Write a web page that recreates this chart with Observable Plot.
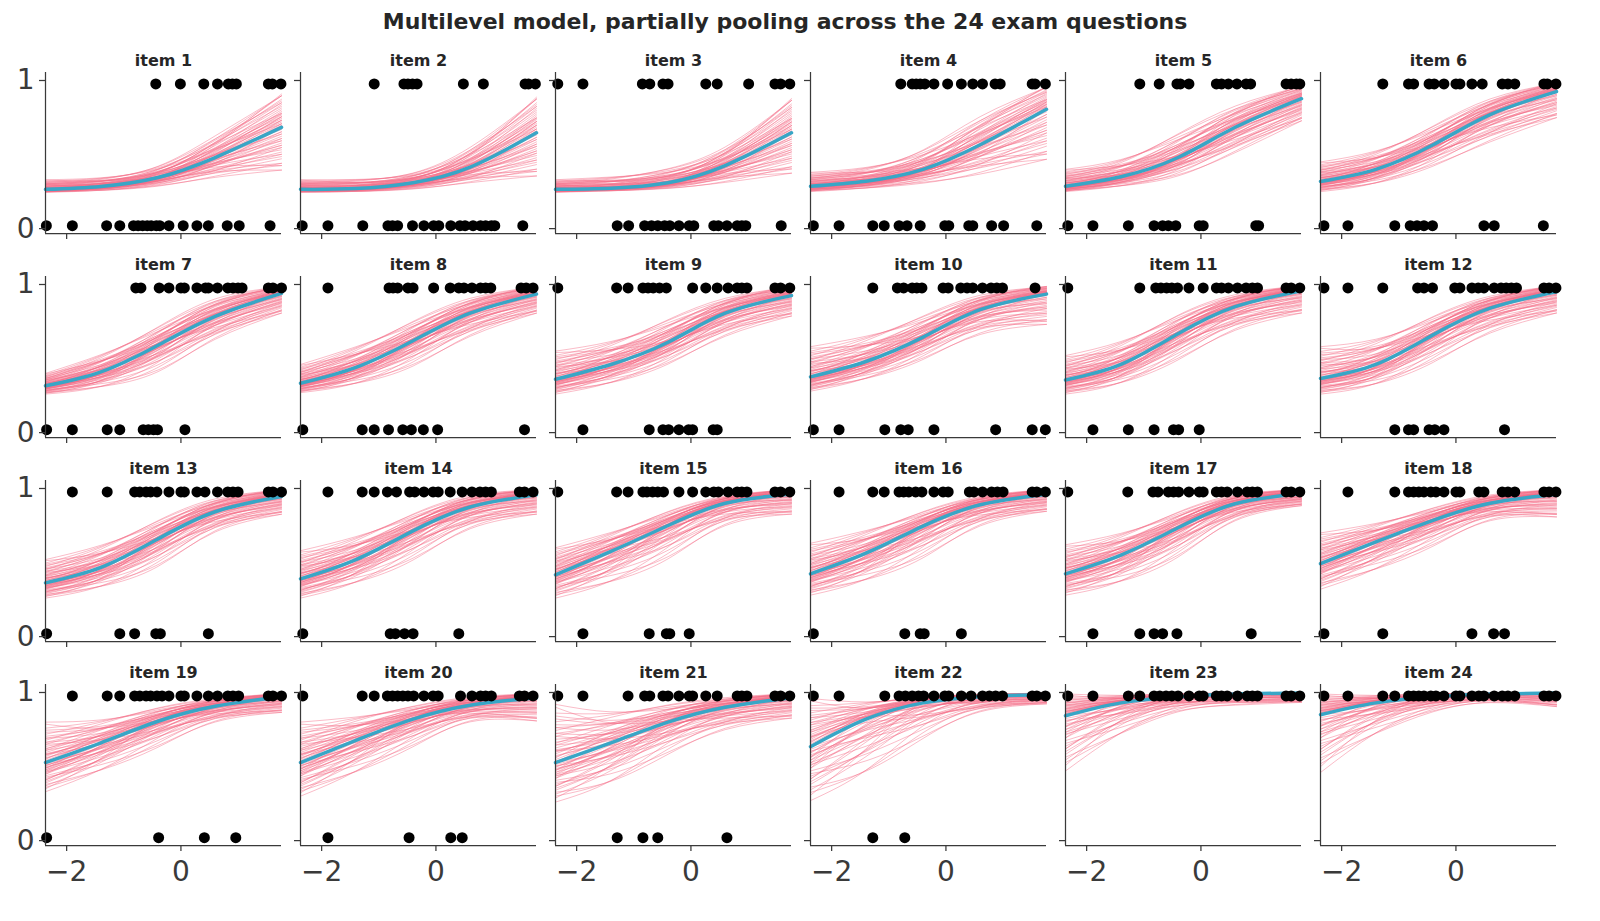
<!DOCTYPE html>
<html><head><meta charset="utf-8">
<script src="https://cdn.jsdelivr.net/npm/d3@7"></script>
<script src="https://cdn.jsdelivr.net/npm/@observablehq/plot@0.6"></script>
<style>
body{margin:0;background:#fff;}
#chart{position:relative;width:1600px;height:921px;font-family:"DejaVu Sans",sans-serif;color:#262626;background:#fff;}
#title{position:absolute;left:0;width:1570px;top:9px;text-align:center;font-weight:bold;font-size:22px;}
.panel{position:absolute;}
</style></head><body>
<div id="chart"><div id="title">Multilevel model, partially pooling across the 24 exam questions</div></div>
<script>
// ---------- data ----------
const itemLabels = ["item 1","item 2","item 3","item 4","item 5","item 6","item 7","item 8","item 9","item 10","item 11","item 12",
  "item 13","item 14","item 15","item 16","item 17","item 18","item 19","item 20","item 21","item 22","item 23","item 24"];
const xDomain = [-2.37, 1.76];
const yDomain = [-0.033, 1.054];
const xTickValues = [-2, 0];
const xTickLabels = ["\u22122", "0"];
const yTickValues = [0, 1];
const yTickLabels = ["0", "1"];
const knotX = [-2.37, -1.4, -0.4, 0.6, 1.76];
const dotYCorrect = 0.977;
const dotYWrong = 0.02;

// posterior mean curve (blue) at knotX, per item
const meanCurve = [
  [0.265,0.285,0.345,0.48,0.684],[0.265,0.27,0.31,0.415,0.647],[0.265,0.273,0.31,0.426,0.647],
  [0.286,0.32,0.40,0.566,0.806],[0.286,0.35,0.48,0.684,0.877],[0.318,0.40,0.566,0.77,0.925],
  [0.316,0.41,0.59,0.785,0.94],[0.333,0.44,0.62,0.806,0.935],[0.36,0.46,0.61,0.806,0.925],
  [0.376,0.48,0.645,0.83,0.935],[0.355,0.46,0.667,0.85,0.957],[0.366,0.46,0.66,0.84,0.95],
  [0.363,0.467,0.66,0.843,0.946],[0.39,0.52,0.714,0.875,0.957],[0.417,0.575,0.75,0.90,0.962],
  [0.424,0.563,0.746,0.89,0.961],[0.424,0.55,0.735,0.897,0.966],[0.492,0.64,0.785,0.90,0.961],
  [0.527,0.66,0.806,0.907,0.972],[0.527,0.677,0.82,0.914,0.965],[0.527,0.66,0.80,0.90,0.965],
  [0.634,0.82,0.93,0.972,0.987],[0.843,0.93,0.972,0.99,0.996],[0.85,0.93,0.972,0.99,0.996]
];
// lower edge of the posterior-draw bundle (pink) at knotX
const bandLow = [
  [0.245,0.25,0.27,0.32,0.38],[0.245,0.245,0.255,0.29,0.34],[0.245,0.25,0.26,0.29,0.36],
  [0.25,0.26,0.28,0.33,0.45],[0.25,0.27,0.32,0.48,0.72],[0.25,0.28,0.38,0.55,0.74],
  [0.26,0.28,0.36,0.60,0.80],[0.27,0.30,0.40,0.62,0.80],[0.26,0.30,0.42,0.62,0.78],
  [0.28,0.33,0.45,0.63,0.72],[0.26,0.30,0.44,0.66,0.80],[0.26,0.29,0.42,0.64,0.80],
  [0.26,0.30,0.42,0.68,0.82],[0.26,0.32,0.46,0.70,0.82],[0.26,0.31,0.46,0.72,0.82],
  [0.28,0.33,0.47,0.72,0.84],[0.28,0.32,0.48,0.76,0.88],[0.32,0.40,0.56,0.76,0.80],
  [0.33,0.42,0.58,0.78,0.86],[0.30,0.40,0.58,0.78,0.80],[0.26,0.32,0.52,0.72,0.82],
  [0.27,0.36,0.62,0.85,0.92],[0.47,0.66,0.84,0.90,0.93],[0.46,0.66,0.84,0.92,0.90]
];
// upper edge of the posterior-draw bundle (pink) at knotX
const bandHigh = [
  [0.33,0.36,0.45,0.66,0.92],[0.33,0.35,0.40,0.58,0.90],[0.33,0.37,0.44,0.58,0.89],
  [0.38,0.44,0.58,0.80,0.97],[0.40,0.50,0.70,0.86,0.97],[0.45,0.56,0.74,0.90,0.99],
  [0.40,0.56,0.76,0.93,0.99],[0.46,0.62,0.80,0.93,0.99],[0.55,0.66,0.82,0.93,0.99],
  [0.58,0.70,0.84,0.95,0.99],[0.52,0.66,0.84,0.95,0.995],[0.58,0.68,0.83,0.94,0.995],
  [0.52,0.66,0.83,0.95,0.995],[0.58,0.72,0.87,0.97,0.995],[0.60,0.74,0.88,0.96,0.995],
  [0.63,0.76,0.88,0.96,0.995],[0.62,0.74,0.88,0.97,0.995],[0.70,0.80,0.90,0.97,0.995],
  [0.80,0.86,0.93,0.97,0.995],[0.80,0.88,0.94,0.98,0.995],[0.92,0.93,0.96,0.98,0.995],
  [0.96,0.97,0.985,0.99,0.998],[0.99,0.995,0.998,0.999,1.0],[0.99,0.995,0.998,0.999,1.0]
];
// position of each pink draw inside the bundle (-1 = lower edge, 1 = upper edge) at the left and right ends
const drawLeft  = [0.95,-0.9,0.6,-0.55,0.3,-0.3,0.1,-0.1,0.45,-0.45,0.75,-0.7,0.2,-0.2,0.05,-0.05,0.35,-0.35,0.5,-0.6,
  0.15,-0.15,0.85,-0.85,0.25,-0.25,0.65,-0.65,0.4,-0.4,0.0,0.0,0.55,-0.5,0.12,-0.12,0.3,-0.3,1.0,-1.0,
  0.2,-0.2,0.7,-0.75,0.08,-0.08,0.45,-0.4,0.18,-0.18,0.6,-0.6,0.33,-0.33,0.02,0.8,-0.8,0.22,-0.25,0.5];
const drawRight = [-0.85,0.95,0.2,-0.25,-0.45,0.5,0.1,-0.15,0.6,-0.7,-0.3,0.3,-0.8,0.8,0.35,-0.4,0.0,0.05,-0.6,0.65,
  0.55,-0.55,0.4,-0.45,0.25,-0.2,-0.05,0.1,-0.25,0.3,0.7,-0.65,0.9,-0.95,-0.3,0.2,0.4,-0.35,0.1,0.0,
  -0.1,0.05,0.7,-0.8,0.9,-0.85,-0.95,0.9,0.15,-0.1,-0.5,0.45,0.75,-0.6,0.0,-0.15,0.2,-0.4,0.38,0.3];

// student ability of the answers scored 1 and 0, per item
const correctX = [
  [-0.44,-0.01,0.40,0.64,0.83,0.90,0.97,1.53,1.60,1.75],
  [-1.08,-0.56,-0.49,-0.41,-0.33,0.48,0.83,1.56,1.62,1.74],
  [-2.33,-1.89,-0.85,-0.72,-0.49,-0.40,0.26,0.46,1.01,1.47,1.57,1.73],
  [-0.79,-0.59,-0.52,-0.45,-0.37,-0.21,0.03,0.27,0.47,0.64,0.86,0.95,1.51,1.56,1.74],
  [-1.07,-0.73,-0.42,-0.36,-0.21,0.27,0.36,0.48,0.63,0.79,0.87,1.49,1.58,1.67,1.73],
  [-1.28,-0.83,-0.74,-0.47,-0.38,-0.21,0.0,0.07,0.28,0.46,0.81,0.91,1.03,1.54,1.60,1.75],
  [-0.79,-0.70,-0.38,-0.21,0.0,0.06,0.28,0.43,0.48,0.64,0.82,0.91,1.0,1.07,1.53,1.61,1.76],
  [-1.89,-0.82,-0.75,-0.67,-0.49,-0.40,-0.04,0.25,0.40,0.49,0.63,0.78,0.87,0.96,1.49,1.58,1.70],
  [-2.33,-1.30,-1.10,-0.84,-0.75,-0.66,-0.55,-0.43,0.03,0.26,0.46,0.65,0.81,0.89,0.98,1.47,1.57,1.73],
  [-1.28,-0.85,-0.74,-0.59,-0.51,-0.42,-0.05,0.04,0.26,0.37,0.47,0.64,0.79,0.89,0.99,1.56],
  [-2.33,-1.07,-0.79,-0.70,-0.60,-0.51,-0.41,-0.21,0.04,0.27,0.36,0.48,0.64,0.79,0.90,0.99,1.49,1.58,1.73],
  [-2.31,-1.89,-1.28,-0.67,-0.56,-0.41,-0.02,0.07,0.28,0.39,0.49,0.67,0.79,0.88,0.97,1.06,1.54,1.63,1.75],
  [-1.90,-1.29,-0.81,-0.72,-0.61,-0.53,-0.42,-0.21,0.0,0.06,0.28,0.42,0.64,0.82,0.91,1.0,1.53,1.61,1.76],
  [-1.89,-1.29,-1.08,-0.85,-0.69,-0.46,-0.37,-0.21,-0.05,0.04,0.25,0.46,0.63,0.77,0.87,0.97,1.46,1.55,1.70],
  [-2.33,-1.30,-1.10,-0.84,-0.77,-0.67,-0.58,-0.48,-0.21,0.03,0.26,0.40,0.48,0.65,0.81,0.89,0.98,1.47,1.57,1.73],
  [-1.87,-1.28,-1.08,-0.82,-0.74,-0.65,-0.53,-0.42,-0.21,-0.05,0.04,0.41,0.49,0.64,0.80,0.90,1.0,1.51,1.59,1.74],
  [-2.33,-1.28,-0.84,-0.75,-0.57,-0.48,-0.39,-0.21,-0.03,0.04,0.27,0.36,0.46,0.64,0.81,0.90,0.99,1.49,1.58,1.73],
  [-1.89,-1.07,-0.83,-0.74,-0.65,-0.56,-0.44,-0.35,-0.21,0.0,0.07,0.40,0.49,0.81,0.91,1.03,1.54,1.63,1.75],
  [-1.90,-1.29,-1.07,-0.81,-0.72,-0.61,-0.53,-0.42,-0.33,-0.21,0.0,0.06,0.28,0.48,0.64,0.82,0.91,1.01,1.53,1.61,1.76],
  [-2.33,-1.29,-1.08,-0.85,-0.76,-0.67,-0.58,-0.49,-0.39,-0.21,-0.05,0.04,0.43,0.63,0.78,0.87,0.97,1.46,1.55,1.70],
  [-2.33,-1.89,-1.10,-0.81,-0.72,-0.49,-0.40,-0.21,-0.03,0.03,0.26,0.46,0.81,0.89,0.98,1.47,1.57,1.73],
  [-2.32,-1.87,-1.07,-0.82,-0.71,-0.59,-0.48,-0.39,-0.21,-0.02,0.05,0.27,0.44,0.64,0.76,0.87,0.99,1.51,1.59,1.74],
  [-2.33,-1.89,-1.27,-1.07,-0.82,-0.72,-0.61,-0.51,-0.40,-0.21,-0.03,0.04,0.27,0.36,0.46,0.64,0.81,0.90,0.99,1.49,1.58,1.73],
  [-2.31,-1.89,-1.28,-1.07,-0.83,-0.74,-0.65,-0.56,-0.44,-0.35,-0.21,0.0,0.07,0.28,0.40,0.49,0.67,0.81,0.91,1.03,1.54,1.63,1.75]
];
const wrongX = [
  [-2.355,-1.90,-1.30,-1.07,-0.83,-0.75,-0.67,-0.59,-0.52,-0.43,-0.37,-0.21,0.04,0.28,0.48,0.81,1.02,1.56],
  [-2.34,-1.89,-1.28,-0.84,-0.76,-0.67,-0.41,-0.21,-0.04,0.05,0.26,0.42,0.51,0.65,0.78,0.87,0.97,1.03,1.52],
  [-1.29,-1.09,-0.81,-0.69,-0.58,-0.46,-0.37,-0.21,-0.03,0.05,0.40,0.48,0.63,0.81,0.89,0.96,1.58],
  [-2.32,-1.87,-1.28,-1.08,-0.82,-0.68,-0.45,-0.02,0.05,0.40,0.47,0.80,1.01,1.59],
  [-2.33,-1.89,-1.27,-0.82,-0.67,-0.57,-0.44,-0.03,0.04,0.96,1.01],
  [-2.31,-1.89,-1.07,-0.80,-0.68,-0.56,-0.41,0.49,0.67,1.53],
  [-2.35,-1.90,-1.29,-1.07,-0.66,-0.57,-0.48,-0.41,0.07],
  [-2.33,-1.29,-1.08,-0.83,-0.58,-0.43,-0.22,0.03,1.55],
  [-1.89,-0.73,-0.49,-0.39,-0.21,-0.04,0.03,0.39,0.46],
  [-2.32,-1.87,-1.07,-0.79,-0.66,-0.21,0.87,1.51,1.74],
  [-1.89,-1.27,-0.82,-0.48,-0.39,-0.03],
  [-1.07,-0.83,-0.74,-0.47,-0.37,-0.21,0.85],
  [-2.35,-1.07,-0.81,-0.44,-0.36,0.48],
  [-2.33,-0.80,-0.71,-0.55,-0.40,0.40],
  [-1.89,-0.73,-0.43,-0.37,-0.03],
  [-2.32,-0.72,-0.45,-0.38,0.27],
  [-1.89,-1.07,-0.82,-0.67,-0.42,0.88],
  [-2.31,-1.28,0.28,0.66,0.85],
  [-2.35,-0.39,0.41,0.96],
  [-1.89,-0.47,0.26,0.46],
  [-1.29,-0.84,-0.58,0.63],
  [-1.28,-0.72],
  [],
  []
];

// ---------- styling / layout ----------
const pink = "#f56a84";
const blue = "#38a6c6";
const axisColor = "#3a3a3a";
const nCol = 6, nRow = 4;
const panelW = 236, panelH = 161;
const colPitch = 255, rowPitch = 204.3;
const originX = 45, originY = 71.5;
const mL = 45, mR = 8, mT = 30, mB = 48;

const chart = document.getElementById("chart");

itemLabels.forEach((label, i) => {
  const r = Math.floor(i / nCol), c = i % nCol;
  const mean = meanCurve[i], lo = bandLow[i], hi = bandHigh[i];
  const pinkRows = [];
  drawLeft.forEach((wl, d) => {
    const wr = drawRight[d];
    knotX.forEach((x, j) => {
      const w = wl + (wr - wl) * j / (knotX.length - 1);
      const y = w >= 0 ? mean[j] + w * (hi[j] - mean[j]) : mean[j] + w * (mean[j] - lo[j]);
      pinkRows.push({draw: d, x, y});
    });
  });
  const meanRows = knotX.map((x, j) => ({x, y: mean[j]}));
  const dotRows = correctX[i].map(x => ({x, y: dotYCorrect}))
    .concat(wrongX[i].map(x => ({x, y: dotYWrong})));
  const bottomRow = r === nRow - 1, leftCol = c === 0;

  const svg = Plot.plot({
    width: mL + panelW + mR,
    height: mT + panelH + mB,
    marginLeft: mL, marginRight: mR, marginTop: mT, marginBottom: mB,
    style: {background: "none", fontFamily: "'DejaVu Sans', sans-serif", color: "#262626", overflow: "visible"},
    x: {domain: xDomain, label: null},
    y: {domain: yDomain, label: null},
    marks: [
      Plot.line(pinkRows, {x: "x", y: "y", z: "draw", stroke: pink, strokeWidth: 1, strokeOpacity: 0.45, curve: "natural"}),
      Plot.line(meanRows, {x: "x", y: "y", stroke: blue, strokeWidth: 3.5, curve: "natural"}),
      Plot.dot(dotRows, {x: "x", y: "y", r: 5.5, fill: "black", stroke: "none"}),
      Plot.ruleX([xDomain[0]], {stroke: axisColor, strokeWidth: 1.25}),
      Plot.ruleY([yDomain[0]], {stroke: axisColor, strokeWidth: 1.25}),
      Plot.axisX({ticks: xTickValues, label: null, tickSize: 6, tickPadding: 10, fontSize: 28,
        color: axisColor, strokeWidth: 1.25,
        tickFormat: d => bottomRow ? xTickLabels[xTickValues.indexOf(d)] : ""}),
      Plot.axisY({ticks: yTickValues, label: null, tickSize: 6, tickPadding: 5, fontSize: 28,
        color: axisColor, strokeWidth: 1.25,
        tickFormat: d => leftCol ? yTickLabels[yTickValues.indexOf(d)] : ""}),
      Plot.text([label], {text: d => d, frameAnchor: "top", dy: -18, fontSize: 16, fontWeight: "bold", fill: "#262626"})
    ]
  });
  svg.classList.add("panel");
  svg.style.left = (originX + colPitch * c - mL) + "px";
  svg.style.top = (originY + rowPitch * r - mT) + "px";
  chart.appendChild(svg);
});
</script>
</body></html>
